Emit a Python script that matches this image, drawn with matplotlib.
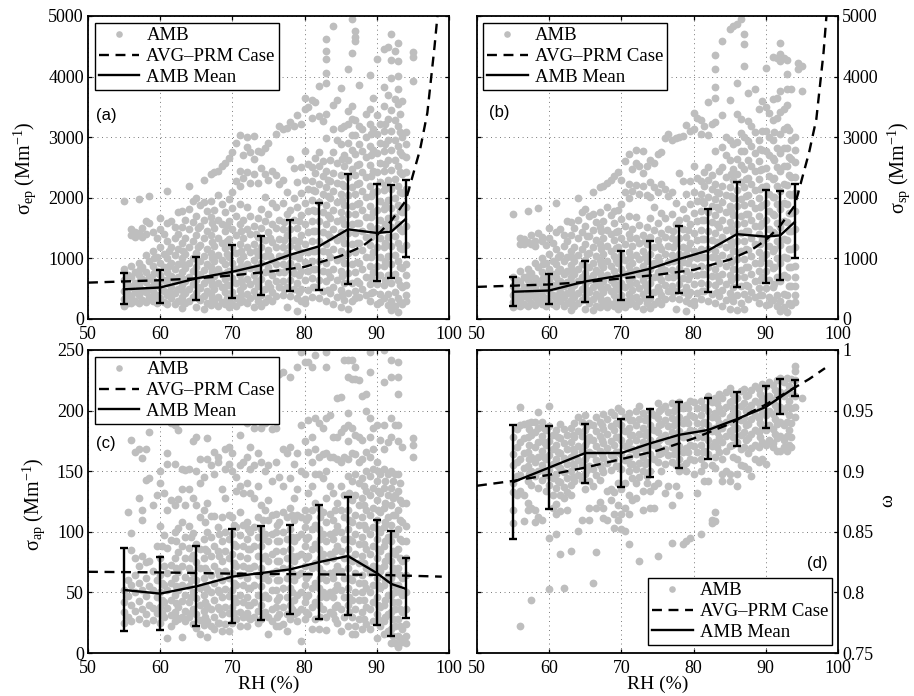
import matplotlib
matplotlib.use("Agg")
import matplotlib.pyplot as plt

plt.rcParams['font.family'] = ['Liberation Serif', 'DejaVu Sans']
plt.rcParams['mathtext.fontset'] = 'custom'
plt.rcParams['mathtext.rm'] = 'Liberation Serif'
plt.rcParams['mathtext.it'] = 'Liberation Serif:italic'
plt.rcParams['mathtext.bf'] = 'Liberation Serif:bold'

rh_bins = [55, 60, 65, 70, 74, 78, 82, 86, 90, 92, 94]

mean_a = [490, 520, 670, 780, 890, 1060, 1200, 1480, 1420, 1440, 1650]
low_a = [240, 260, 310, 340, 400, 470, 480, 580, 620, 670, 1030]
up_a = [760, 810, 1030, 1220, 1370, 1640, 1920, 2390, 2230, 2210, 2300]
mean_b = [450, 470, 620, 720, 830, 990, 1130, 1400, 1360, 1380, 1600]
low_b = [220, 240, 280, 310, 370, 430, 440, 530, 590, 650, 1000]
up_b = [690, 750, 950, 1130, 1280, 1540, 1810, 2260, 2130, 2120, 2220]
mean_c = [52, 49, 55, 63, 66, 69, 75, 80, 66, 57, 53]
low_c = [18, 19, 22, 25, 27, 32, 28, 31, 23, 14, 29]
up_c = [87, 79, 88, 102, 105, 106, 122, 129, 110, 101, 78]
mean_d = [.891, .903, .915, .915, .923, .93, .934, .943, .953, .961, .969]
low_d = [.844, .869, .89, .887, .895, .903, .91, .921, .936, .947, .962]
up_d = [.938, .937, .939, .943, .951, .957, .96, .965, .97, .976, .975]

prm_rh_a = [50, 55, 60, 65, 70, 75, 80, 85, 88, 90, 92, 94, 96, 97, 98, 98.4]
prm_a = [600, 620, 640, 670, 720, 780, 860, 1040, 1200, 1380, 1620, 1950, 2800, 3400, 4500, 5000]
prm_b = [530, 550, 570, 610, 670, 730, 810, 980, 1140, 1300, 1540, 1870, 2750, 3300, 4400, 5000]
prm_rh_c = [50, 60, 70, 80, 90, 99]
prm_c = [67, 66.5, 65.5, 65, 64.5, 63]
prm_rh_d = [50, 55, 60, 65, 70, 75, 80, 85, 88, 90, 92, 94, 96, 98.2]
prm_d = [.888, .892, .897, .903, .91, .917, .927, .939, .949, .955, .962, .969, .976, .985]

amb_a = [
 (55, [1940, 830, 640, 470, 330, 220]), (55.5, [720, 560, 410, 270]),
 (56, [1480, 1380, 880, 690, 520, 360, 260]), (56.5, [1440, 1350, 780, 600, 450, 300]),
 (57, [1980, 1420, 920, 730, 540, 390, 270]), (57.5, [1500, 1350, 850, 660, 480, 320]),
 (58, [1620, 1410, 1050, 780, 610, 440, 280]), (58.5, [2030, 1590, 960, 700, 530, 360]),
 (59, [1440, 1130, 880, 650, 470, 290]), (59.5, [1330, 1020, 790, 580, 400, 260]),
 (60, [1670, 1480, 1190, 920, 720, 530, 350]), (60.5, [1410, 1080, 850, 640, 470, 280]),
 (61, [2120, 1580, 1280, 1000, 780, 590, 390, 240]), (61.5, [1620, 1190, 920, 710, 520, 340]),
 (62, [1510, 1340, 1060, 830, 620, 430, 250]), (62.5, [1760, 1410, 1150, 900, 690, 500, 300]),
 (63, [1790, 1520, 1250, 1000, 770, 560, 360, 180]), (63.5, [1640, 1330, 1080, 840, 630, 430, 260]),
 (64, [2200, 1810, 1480, 1180, 920, 700, 490, 300]), (64.5, [1950, 1600, 1290, 1010, 790, 570, 370]),
 (65, [2000, 1700, 1380, 1090, 860, 640, 430, 190]), (65.5, [1880, 1530, 1220, 960, 730, 510, 310]),
 (66, [2300, 1930, 1640, 1330, 1040, 810, 590, 380, 170]), (66.5, [1780, 1450, 1160, 910, 680, 470, 260]),
 (67, [2400, 1950, 1690, 1390, 1090, 850, 620, 410, 230]), (67.5, [2420, 1800, 1500, 1200, 950, 710, 500, 300]),
 (68, [2450, 2040, 1640, 1340, 1060, 820, 590, 370, 220]), (68.5, [2520, 1900, 1560, 1250, 980, 740, 520, 280]),
 (69, [2580, 1760, 1460, 1170, 900, 660, 440, 240]), (69.5, [2650, 1980, 1620, 1320, 1030, 790, 560, 330, 190]),
 (70, [2750, 2100, 1830, 1490, 1180, 920, 680, 450, 250]), (70.5, [2900, 2270, 1700, 1380, 1090, 830, 590, 340, 220]),
 (71, [3030, 2450, 2200, 1890, 1560, 1240, 970, 720, 480, 280]), (71.5, [2700, 2330, 1640, 1330, 1040, 790, 540, 300]),
 (72, [3010, 2840, 2420, 1850, 1480, 1180, 900, 660, 420, 260]), (72.5, [2750, 2250, 1700, 1400, 1100, 840, 580, 340]),
 (73, [3020, 2640, 2400, 1530, 1240, 970, 720, 470, 200]), (73.5, [2780, 2250, 1670, 1360, 1060, 800, 540, 300]),
 (74, [2760, 2490, 1820, 1500, 1190, 930, 660, 400, 210]), (74.5, [2830, 2400, 2020, 1620, 1310, 1040, 770, 500, 280]),
 (75, [2900, 2290, 1740, 1440, 1140, 860, 600, 340]), (75.5, [2440, 1920, 1560, 1270, 980, 720, 450, 290]),
 (76, [3050, 2370, 1840, 1500, 1190, 900, 630, 380]), (76.5, [3180, 2230, 1640, 1320, 1040, 780, 520]),
 (77, [3140, 2300, 1920, 1480, 1180, 900, 620, 390]), (77.5, [3160, 2100, 1730, 1380, 1090, 820, 530, 190]),
 (78, [3250, 2640, 1800, 1480, 1200, 930, 650, 380]), (78.5, [3190, 2490, 2000, 1640, 1310, 1040, 760, 500]),
 (79, [3360, 2260, 1840, 1500, 1180, 880, 590, 340, 140]), (79.5, [3220, 2500, 2080, 1710, 1390, 1100, 800, 500, 300]),
 (80, [3650, 3470, 2780, 2290, 1920, 1560, 1240, 940, 640, 330, 260]), (80.5, [3500, 2560, 2140, 1780, 1440, 1110, 800, 480]),
 (81, [3620, 3310, 2500, 2270, 1970, 1620, 1280, 960, 670, 370]), (81.5, [3580, 2660, 2410, 2110, 1790, 1450, 1130, 820, 520]),
 (82, [3840, 3350, 2750, 2520, 2220, 1930, 1610, 1280, 950, 640, 340]), (82.5, [3260, 2600, 2360, 2060, 1760, 1440, 1120, 790, 470]),
 (83, [4620, 4430, 4290, 4060, 3900, 3380, 2980, 2450, 2180, 1880, 1560, 1240, 920, 620, 290]), (83.5, [2620, 2280, 1990, 1660, 1350, 1030, 700, 430]),
 (84, [4840, 3530, 3130, 2750, 2410, 2120, 1800, 1480, 1160, 830, 530, 240]), (84.5, [3610, 2950, 2580, 2240, 1930, 1620, 1300, 970, 640, 360]),
 (85, [3820, 3150, 2880, 2380, 2060, 1760, 1440, 1130, 800, 480, 190]), (85.5, [3180, 2710, 2520, 2190, 1880, 1570, 1250, 920, 590, 320]),
 (86, [4120, 3440, 3220, 2900, 2630, 2340, 2040, 1730, 1420, 1090, 760, 430, 170]), (86.5, [4950, 4390, 3520, 3300, 3040, 2790, 2480, 2180, 1870, 1560, 1240, 900, 600, 300]),
 (87, [4750, 4660, 4590, 3280, 3040, 2720, 2380, 2070, 1740, 1420, 1100, 780, 460, 340]), (87.5, [3860, 3190, 2880, 2560, 2240, 1910, 1590, 1260, 930, 600, 370]),
 (88, [3130, 2770, 2430, 2110, 1800, 1460, 1140, 820, 490]), (88.5, [3380, 3010, 2680, 2340, 2010, 1680, 1350, 1030, 700, 400]),
 (89, [4020, 3470, 3210, 2860, 2540, 2190, 1870, 1540, 1220, 880, 570, 300]), (89.5, [3650, 3130, 2790, 2440, 2100, 1770, 1440, 1100, 770, 450]),
 (90, [4290, 3360, 3050, 2740, 2420, 2110, 1800, 1500, 1190, 880, 570, 250]), (90.5, [3210, 2900, 2580, 2260, 1950, 1640, 1330, 1030, 720, 410, 280]),
 (91, [4460, 3830, 3520, 3100, 2780, 2440, 2130, 1820, 1500, 1190, 880, 560, 350]), (91.5, [4490, 3690, 3300, 2960, 2620, 2290, 1970, 1660, 1350, 1040, 730, 420, 230]),
 (92, [4700, 4270, 3980, 3450, 3100, 2790, 2460, 2150, 1830, 1520, 1210, 900, 590, 290, 150]), (92.5, [4420, 3630, 3290, 2960, 2630, 2310, 1990, 1680, 1370, 1060, 750, 440, 210]),
 (93, [4550, 4250, 4010, 3800, 3540, 3180, 2850, 2520, 2200, 1880, 1570, 1260, 950, 640, 340, 120]), (93.5, [3590, 3000, 2710, 2400, 2080, 1770, 1460, 1150, 840, 530, 240]),
 (94, [3080, 2880, 2680, 2430, 2150, 1840, 1530, 1220, 910, 730, 560, 400, 290]), (95, [4400, 4320, 3920]),
 (57.2, [820, 630, 440]), (59.2, [1000, 760, 560, 380]), (61.2, [1120, 880, 680, 440]), (63.2, [1130, 900, 660, 460, 280]), (65.2, [1500, 1180, 950, 740, 530, 350]),
 (67.2, [1590, 1270, 1000, 770, 560, 340]), (69.2, [1550, 1290, 1070, 780, 560, 350]), (71.2, [1460, 1130, 870, 630, 400]), (73.2, [1400, 1130, 860, 620, 380]),
 (75.2, [1330, 1040, 770, 520]), (77.2, [1600, 1300, 1040, 770, 500]), (79.2, [1620, 1290, 1010, 720, 440]), (81.2, [2130, 1800, 1450, 1120, 820, 520]),
 (83.2, [2300, 2030, 1720, 1400, 1100, 780, 480]), (85.2, [2640, 2230, 1960, 1650, 1340, 1030, 710, 400]), (87.2, [2540, 2230, 1900, 1590, 1260, 940, 620]),
 (89.2, [3060, 2700, 2360, 2030, 1690, 1360, 1020, 700, 430]), (91.2, [3210, 2880, 2550, 2210, 1880, 1560, 1260, 950, 640]), (93.2, [3380, 3090, 2760, 2420, 2100, 1790, 1480, 1170, 860, 560, 280]),
]

amb_b = [
 (55, [1730, 690, 540, 390, 280, 190]), (55.5, [640, 480, 340, 230]),
 (56, [1340, 1240, 790, 610, 440, 310, 210]), (56.5, [1320, 1230, 700, 530, 380, 250]),
 (57, [1790, 1270, 830, 650, 480, 340, 220]), (57.5, [1380, 1240, 760, 580, 420, 270]),
 (58, [1280, 1200, 920, 680, 520, 370, 230]), (58.5, [1830, 1420, 850, 620, 450, 290]),
 (59, [1350, 1280, 1000, 770, 570, 400, 240]), (59.5, [1220, 920, 700, 510, 340, 210]),
 (60, [1500, 1330, 1070, 820, 640, 470, 300]), (60.5, [1260, 960, 750, 560, 400, 240]),
 (61, [1920, 1430, 1160, 900, 700, 520, 340, 210]), (61.5, [1480, 1060, 820, 630, 450, 290]),
 (62, [1390, 1200, 950, 740, 550, 370, 220]), (62.5, [1610, 1280, 1030, 800, 610, 430, 260]),
 (63, [1600, 1380, 1120, 890, 690, 490, 310, 150]), (63.5, [1500, 1190, 960, 750, 560, 370, 220]),
 (64, [2000, 1640, 1330, 1060, 830, 620, 430, 260]), (64.5, [1760, 1440, 1160, 900, 700, 500, 320]),
 (65, [1820, 1530, 1240, 980, 760, 570, 380, 170]), (65.5, [1700, 1370, 1090, 860, 650, 450, 270]),
 (66, [2090, 1740, 1470, 1190, 930, 720, 520, 330, 150]), (66.5, [1600, 1300, 1040, 810, 600, 410, 220]),
 (67, [2170, 1760, 1520, 1240, 980, 760, 550, 360, 200]), (67.5, [2190, 1620, 1340, 1070, 850, 630, 440, 260]),
 (68, [2250, 1840, 1470, 1200, 950, 730, 520, 320, 190]), (68.5, [2300, 1710, 1400, 1120, 870, 650, 460, 240]),
 (69, [2360, 1780, 1580, 1310, 1040, 800, 590, 390, 210]), (69.5, [2420, 1800, 1460, 1180, 920, 700, 490, 290, 160]),
 (70, [2300, 1900, 1650, 1340, 1060, 820, 600, 400, 220]), (70.5, [2600, 2090, 1530, 1240, 980, 740, 520, 290, 190]),
 (71, [2730, 2230, 1990, 1700, 1400, 1110, 870, 640, 420, 240]), (71.5, [2470, 2120, 1480, 1200, 930, 700, 480, 260]),
 (72, [2790, 2580, 2210, 1680, 1340, 1060, 810, 590, 370, 220]), (72.5, [2520, 2060, 1550, 1260, 990, 750, 510, 300]),
 (73, [2780, 2410, 2190, 1390, 1120, 870, 640, 420, 170]), (73.5, [2520, 2050, 1510, 1230, 960, 720, 480, 260]),
 (74, [2620, 2260, 2020, 1660, 1360, 1070, 830, 590, 350, 180]), (74.5, [2570, 2180, 1840, 1470, 1180, 930, 690, 440, 240]),
 (75, [2730, 2090, 1580, 1300, 1030, 770, 530, 300]), (75.5, [2750, 2230, 1750, 1420, 1150, 880, 640, 400, 250]),
 (76, [2990, 2150, 1670, 1360, 1070, 810, 560, 330]), (76.5, [3050, 2030, 1490, 1200, 940, 700, 460]),
 (77, [2960, 2100, 1740, 1340, 1060, 810, 550, 340]), (77.5, [2980, 1910, 1570, 1250, 980, 730, 470, 170]),
 (78, [3000, 2410, 1630, 1340, 1080, 840, 580, 330]), (78.5, [3020, 2270, 1820, 1490, 1190, 940, 680, 440]),
 (79, [3200, 2060, 1670, 1360, 1070, 790, 530, 300, 130]), (79.5, [3110, 2280, 1900, 1560, 1260, 1000, 720, 450, 270]),
 (80, [3400, 3130, 2530, 2090, 1750, 1420, 1130, 850, 570, 290, 230]), (80.5, [3320, 2330, 1950, 1620, 1310, 1010, 720, 430]),
 (81, [3290, 3050, 2270, 2070, 1790, 1470, 1160, 870, 600, 330]), (81.5, [3180, 2420, 2190, 1920, 1630, 1320, 1020, 740, 470]),
 (82, [3580, 3040, 2500, 2290, 2020, 1760, 1460, 1160, 860, 580, 300]), (82.5, [3220, 2370, 2150, 1870, 1600, 1310, 1020, 710, 420]),
 (83, [4350, 4130, 3830, 3640, 3250, 2780, 2230, 1980, 1710, 1420, 1130, 830, 560, 260]), (83.5, [2450, 2080, 1810, 1510, 1230, 930, 630, 380]),
 (84, [4580, 3370, 2840, 2500, 2190, 1930, 1640, 1350, 1050, 750, 480, 210]), (84.5, [3000, 2700, 2350, 2040, 1760, 1470, 1180, 880, 580, 320]),
 (85, [4780, 3620, 2960, 2620, 2170, 1870, 1600, 1310, 1030, 720, 430, 170]), (85.5, [4830, 2880, 2470, 2290, 1990, 1710, 1430, 1130, 830, 530, 290]),
 (86, [4860, 3890, 3390, 2920, 2640, 2390, 2130, 1860, 1570, 1290, 990, 690, 390, 150]), (86.5, [4950, 3300, 3070, 2780, 2540, 2260, 1980, 1700, 1420, 1130, 810, 540, 270]),
 (87, [4710, 4530, 4170, 3010, 2770, 2480, 2170, 1880, 1580, 1290, 990, 700, 410, 160]), (87.5, [3730, 3260, 2930, 2630, 2330, 2040, 1740, 1450, 1140, 850, 540, 330]),
 (88, [3180, 2850, 2520, 2220, 1920, 1640, 1330, 1040, 740, 440]), (88.5, [3790, 3090, 2740, 2440, 2130, 1830, 1530, 1230, 930, 630, 360]),
 (89, [3460, 2960, 2600, 2310, 2000, 1700, 1400, 1110, 800, 510, 270]), (89.5, [3590, 3100, 2790, 2480, 2180, 1880, 1590, 1300, 1000, 690, 400]),
 (90, [4140, 3500, 3100, 2780, 2490, 2200, 1920, 1630, 1340, 1080, 790, 510, 230]), (90.5, [3400, 3010, 2700, 2360, 2070, 1780, 1490, 1210, 930, 650, 370, 250]),
 (91, [4320, 3630, 3290, 2960, 2650, 2310, 2020, 1730, 1430, 1130, 840, 530, 320]), (91.5, [4300, 3650, 3310, 2830, 2500, 2200, 1890, 1590, 1290, 1000, 700, 400, 210]),
 (92, [4560, 4380, 4250, 3770, 3420, 3060, 2740, 2440, 2120, 1820, 1520, 1220, 920, 620, 300, 130]), (92.5, [4310, 3470, 3130, 2830, 2520, 2220, 1920, 1620, 1320, 1020, 720, 420, 190]),
 (93, [4280, 4040, 3790, 3530, 3170, 2830, 2520, 2210, 1900, 1600, 1300, 1000, 700, 400, 110]), (93.5, [3790, 2960, 2640, 2340, 2040, 1750, 1450, 1150, 850, 550, 230]),
 (94, [3010, 2790, 2590, 2350, 2080, 1780, 1480, 1180, 880, 700, 540, 390, 280]), (94.5, [4220, 4130]), (95, [4170, 3770]),
 (57.2, [730, 560, 390]), (59.2, [900, 680, 500, 340]), (61.2, [1020, 790, 610, 390]), (63.2, [1030, 810, 600, 410, 250]), (65.2, [1370, 1070, 860, 670, 480, 320]),
 (67.2, [1450, 1150, 910, 700, 510, 310]), (69.2, [1430, 1170, 970, 710, 510, 320]), (71.2, [1330, 1030, 790, 570, 360]), (73.2, [1280, 1030, 780, 560, 350]),
 (75.2, [1210, 950, 700, 470]), (77.2, [1450, 1180, 950, 700, 450]), (79.2, [1470, 1170, 920, 660, 400]), (81.2, [1940, 1640, 1320, 1020, 740, 470]),
 (83.2, [2100, 1850, 1560, 1270, 1000, 710, 440]), (85.2, [2400, 2030, 1780, 1500, 1220, 940, 650, 360]), (87.2, [2310, 2030, 1730, 1450, 1150, 850, 560]),
 (89.2, [2800, 2460, 2150, 1850, 1540, 1240, 930, 640, 390]), (91.2, [3080, 2620, 2320, 2010, 1710, 1420, 1150, 860, 580]), (93.2, [3120, 2680, 2370, 2060, 1750, 1450, 1150, 850, 550, 260]),
]

amb_c = [
 (55, [52, 42, 34, 25]), (55.5, [116, 60, 47, 30]), (56, [176, 99, 85, 56, 40, 26]), (56.5, [166, 78, 64, 50, 35]),
 (57, [168, 128, 72, 58, 43, 28]), (57.5, [161, 110, 118, 80, 52, 36]), (58, [168, 143, 75, 62, 47, 32, 25]), (58.5, [182, 144, 76, 55, 40]),
 (59, [122, 68, 52, 37, 27]), (59.5, [130, 88, 60, 46, 33]), (60, [150, 140, 105, 78, 64, 50, 38, 25]), (60.5, [132, 97, 72, 56, 42, 30]),
 (61, [165, 156, 118, 87, 66, 52, 37, 12]), (61.5, [190, 126, 93, 73, 58, 44, 31, 22]), (62, [188, 156, 122, 100, 78, 62, 48, 34, 26]), (62.5, [184, 127, 103, 83, 67, 52, 38, 28]),
 (63, [152, 135, 108, 88, 72, 56, 43, 30, 13]), (63.5, [151, 122, 96, 78, 63, 48, 35, 26]), (64, [152, 135, 105, 87, 70, 55, 42, 30]), (64.5, [175, 128, 99, 81, 66, 50, 36, 24]),
 (65, [178, 150, 122, 90, 75, 60, 45, 32, 21]), (65.5, [160, 140, 112, 86, 70, 54, 40, 27, 16]), (66, [145, 118, 94, 78, 62, 48, 35, 23]), (66.5, [177, 160, 124, 100, 84, 68, 53, 39, 26, 13]),
 (67, [155, 113, 96, 80, 64, 50, 36, 22]), (67.5, [166, 148, 113, 88, 72, 58, 44, 30, 20]), (68, [162, 158, 104, 84, 68, 52, 38, 25]), (68.5, [135, 112, 92, 76, 60, 46, 32, 18]),
 (69, [168, 152, 128, 100, 84, 68, 53, 38, 24]), (69.5, [170, 156, 114, 94, 78, 62, 47, 33, 18]), (70, [165, 150, 112, 98, 82, 66, 52, 38, 25]), (70.5, [145, 134, 104, 88, 72, 56, 42, 28]),
 (71, [180, 155, 138, 116, 97, 80, 64, 48, 34, 22]), (71.5, [158, 132, 106, 88, 72, 56, 42, 30]), (72, [190, 162, 140, 108, 94, 78, 62, 46, 33, 22]), (72.5, [170, 152, 132, 100, 86, 70, 54, 40, 28]),
 (73, [186, 155, 128, 104, 88, 72, 56, 42, 30]), (73.5, [195, 165, 138, 112, 96, 80, 64, 48, 35, 25]), (74, [186, 158, 122, 102, 88, 70, 55, 40, 28]), (74.5, [190, 150, 118, 98, 80, 64, 48, 34]),
 (75, [208, 155, 126, 110, 92, 76, 60, 45, 30, 16]), (75.5, [185, 142, 114, 98, 82, 66, 52, 36, 26]), (76, [228, 186, 158, 115, 100, 84, 68, 52, 38, 22]), (76.5, [230, 145, 108, 92, 76, 60, 46, 32, 22]),
 (77, [232, 168, 138, 116, 100, 84, 70, 54, 38, 24]), (77.5, [165, 112, 94, 78, 62, 46, 32, 18]), (78, [228, 170, 144, 120, 102, 86, 70, 54, 40, 28]), (78.5, [156, 128, 110, 92, 76, 60, 44, 32]),
 (79, [236, 165, 135, 114, 96, 80, 64, 48, 34, 26]), (79.5, [248, 188, 150, 112, 98, 82, 66, 50, 36, 10]), (80, [240, 175, 148, 118, 104, 88, 72, 56, 42, 28]), (80.5, [240, 192, 166, 132, 112, 96, 80, 64, 48, 32]),
 (81, [236, 178, 158, 138, 118, 102, 86, 70, 54, 38, 20]), (81.5, [246, 194, 168, 148, 124, 106, 90, 74, 58, 42, 28]), (82, [190, 162, 148, 120, 102, 86, 70, 54, 40, 20]), (82.5, [186, 164, 144, 116, 98, 82, 66, 50, 36]),
 (83, [248, 236, 194, 165, 150, 128, 108, 92, 76, 60, 46, 30, 19]), (83.5, [196, 162, 138, 115, 98, 82, 66, 50, 34]), (84, [178, 162, 132, 110, 94, 78, 62, 46, 32]), (84.5, [210, 178, 160, 124, 105, 88, 72, 56, 40, 25]),
 (85, [211, 182, 158, 138, 118, 100, 84, 68, 52, 36, 18]), (85.5, [242, 186, 162, 130, 112, 94, 78, 62, 46, 30]), (86, [242, 228, 198, 188, 175, 160, 146, 118, 102, 86, 70, 54, 40, 22]), (86.5, [242, 226, 186, 165, 142, 126, 108, 92, 76, 60, 44, 30, 16]),
 (87, [236, 226, 180, 164, 148, 130, 114, 98, 82, 66, 50, 36, 22, 16]), (87.5, [225, 178, 158, 140, 122, 106, 90, 74, 58, 44, 28]), (88, [212, 176, 160, 144, 128, 112, 96, 80, 64, 50, 34, 20]), (88.5, [214, 200, 166, 150, 134, 118, 102, 86, 70, 54, 38, 24]),
 (89, [248, 232, 194, 178, 162, 146, 130, 114, 98, 82, 66, 50, 36, 20]), (89.5, [186, 168, 152, 136, 120, 104, 88, 72, 56, 42, 26]), (90, [188, 158, 142, 126, 110, 94, 78, 62, 46, 32, 12]), (90.5, [176, 148, 132, 116, 100, 84, 68, 54, 38, 22]),
 (91, [250, 224, 188, 168, 152, 136, 120, 104, 88, 72, 56, 40, 26, 16]), (91.5, [174, 148, 130, 112, 96, 80, 64, 48, 32, 18]), (92, [242, 228, 194, 178, 150, 136, 122, 106, 92, 76, 62, 48, 34, 20, 8]), (92.5, [188, 148, 130, 114, 98, 82, 66, 50, 36, 22, 8]),
 (93, [240, 228, 214, 188, 175, 148, 134, 118, 102, 86, 70, 56, 42, 28, 14, 5]), (93.5, [170, 124, 108, 92, 76, 62, 48, 34, 20, 9]), (94, [124, 105, 92, 78, 64, 50, 36, 24, 14, 8]), (95, [177, 172, 162]),
 (60.2, [88, 58, 44, 33]), (62.2, [92, 70, 55, 41, 30]), (64.2, [96, 78, 60, 46, 33]), (66.2, [108, 86, 70, 56, 42, 30]), (68.2, [98, 80, 64, 50, 36, 25]),
 (70.2, [106, 90, 74, 58, 45, 33]), (72.2, [102, 86, 70, 54, 40, 30]), (74.2, [110, 94, 78, 62, 46, 33]), (76.2, [106, 92, 76, 60, 44, 30]), (78.2, [114, 96, 80, 66, 50, 36]),
 (80.2, [110, 94, 78, 62, 46, 34]), (82.2, [112, 94, 78, 62, 46, 30]), (84.2, [118, 100, 84, 68, 52, 38, 28]), (86.2, [132, 110, 94, 78, 62, 46, 34]), (88.2, [138, 122, 106, 90, 74, 58, 44, 28]),
 (90.2, [150, 134, 118, 102, 86, 70, 56, 40, 28]), (91.2, [142, 124, 108, 92, 76, 60, 44, 30]), (92.2, [142, 128, 114, 98, 84, 70, 56, 42, 28, 14]), (93.2, [140, 126, 110, 94, 78, 64, 50, 36, 22, 12]),
]

amb_d = [
 (55, [.928, .914, .905, .89, .883, .868, .857]), (55.5, [.935, .92, .908, .896, .88]), (56, [.953, .938, .924, .91, .897, .884, .772]), (56.5, [.939, .927, .915, .903, .88, .859]),
 (57, [.94, .928, .916, .904, .892, .874, .868]), (57.5, [.941, .93, .912, .9, .889, .794, .87]), (58, [.941, .932, .92, .908, .896, .868, .858]), (58.5, [.949, .936, .924, .912, .9, .886, .862]),
 (59, [.941, .929, .917, .905, .893, .86]), (59.5, [.934, .922, .91, .897, .884]), (60, [.954, .937, .925, .913, .901, .889, .845, .803]), (60.5, [.93, .918, .906, .894, .88, .87]),
 (61, [.934, .922, .91, .898, .886, .873, .865, .848]), (61.5, [.939, .927, .915, .903, .891, .88, .867, .832]), (62, [.935, .923, .911, .899, .887, .878, .804]), (62.5, [.93, .918, .906, .894, .883, .868]),
 (63, [.936, .924, .912, .9, .889, .88, .834]), (63.5, [.94, .928, .916, .904, .892]), (64, [.945, .933, .921, .909, .897, .851]), (64.5, [.941, .929, .917, .905, .893, .86]),
 (65, [.946, .934, .922, .91, .898, .885]), (65.5, [.94, .928, .916, .904, .892, .87, .86]), (66, [.938, .926, .914, .902, .888, .808]), (66.5, [.945, .933, .921, .909, .897, .87, .833]),
 (67, [.941, .929, .917, .905, .893, .875]), (67.5, [.947, .935, .923, .911, .899, .87, .861]), (68, [.943, .931, .919, .907, .884, .86]), (68.5, [.949, .937, .925, .913, .901, .885, .876]),
 (69, [.946, .934, .922, .91, .883, .865, .853]), (69.5, [.952, .94, .928, .916, .904, .89, .872, .86]), (70, [.95, .938, .926, .914, .902, .885, .865, .852]), (70.5, [.945, .933, .921, .909, .89, .87, .851]),
 (71, [.948, .936, .924, .912, .9, .88, .865, .84]), (71.5, [.942, .93, .918, .906, .894, .876]), (72, [.95, .938, .926, .914, .902, .89, .878]), (72.5, [.954, .943, .931, .919, .907, .895, .826]),
 (73, [.948, .936, .924, .912, .9, .884, .868]), (73.5, [.944, .932, .92, .908, .896, .89]), (74, [.95, .938, .926, .914, .9, .884, .87]), (74.5, [.946, .934, .922, .91, .888, .87]),
 (75, [.956, .944, .932, .92, .908, .89, .83]), (75.5, [.951, .939, .927, .915, .9]), (76, [.954, .942, .93, .918, .906, .882]), (76.5, [.949, .937, .925, .913, .888]),
 (77, [.956, .944, .932, .92, .908, .872, .841]), (77.5, [.953, .941, .929, .917, .905, .888]), (78, [.957, .945, .933, .921, .91, .9, .88]), (78.5, [.952, .94, .928, .916, .904, .84]),
 (79, [.955, .943, .931, .919, .907, .9, .842]), (79.5, [.958, .946, .934, .922, .91, .845]), (80, [.957, .945, .933, .921, .909, .898]), (80.5, [.952, .94, .928, .916, .882]),
 (81, [.958, .946, .934, .922, .91, .9, .848]), (81.5, [.953, .941, .929, .917, .905, .892]), (82, [.962, .95, .938, .926, .914, .892]), (82.5, [.957, .945, .933, .921, .905, .86, .857]),
 (83, [.96, .948, .936, .924, .912, .903, .866, .859]), (83.5, [.964, .952, .94, .928, .916]), (84, [.96, .948, .936, .924, .91, .898, .892]), (84.5, [.965, .953, .941, .929, .917, .9]),
 (85, [.969, .957, .945, .933, .921, .898, .892]), (85.5, [.964, .952, .94, .928, .912]), (86, [.96, .948, .936, .924, .91, .898, .888]), (86.5, [.966, .954, .942, .93, .918, .905]),
 (87, [.968, .956, .944, .932, .92, .904]), (87.5, [.963, .951, .939, .927, .915, .902]), (88, [.967, .955, .943, .931, .919, .896]), (88.5, [.97, .958, .946, .934, .922, .91]),
 (89, [.968, .956, .944, .932, .92, .908]), (89.5, [.972, .96, .948, .936, .924, .91]), (90, [.97, .958, .946, .934, .922, .906]), (90.5, [.974, .962, .95, .938, .926]),
 (91, [.971, .959, .947, .935, .923, .92]), (91.5, [.975, .963, .951, .939, .927, .917]), (92, [.977, .965, .953, .941, .929, .917]), (92.5, [.974, .962, .95, .938, .926, .92]),
 (93, [.977, .965, .953, .941, .929, .917]), (93.5, [.976, .964, .952, .94, .928, .92]), (94, [.987, .983, .975, .962, .953, .945]), (95, [.96]),
 (57.25, [.935, .922, .91, .898]), (59.25, [.936, .924, .912, .9]), (61.25, [.928, .916, .904, .892]), (63.25, [.93, .918, .906, .895]), (65.25, [.937, .925, .913, .901]),
 (67.25, [.938, .926, .914, .902]), (69.25, [.94, .928, .916, .904]), (71.25, [.942, .93, .918, .906]), (73.25, [.942, .93, .918, .906]), (75.25, [.95, .938, .926, .914]),
 (77.25, [.95, .938, .926, .914]), (79.25, [.952, .94, .928, .916]), (81.25, [.952, .94, .928, .916]), (83.25, [.956, .944, .932, .92]), (85.25, [.958, .946, .934, .922]),
 (87.25, [.962, .95, .938, .926]), (89.25, [.964, .952, .94, .928]), (91.25, [.967, .955, .943, .931]), (93.25, [.97, .958, .946, .934, .922]),
]


def panel(box, amb, prm_x, prm_y, mean, low, up, ylim, yticks, yticklabels, letter, letter_xy,
          legend_xy, right=False, xlabel=False):
    ax = fig.add_axes([box[0] / W, 1 - box[1] / H, 361 / W, 303 / H])
    xs, ys = [], []
    for rh, vals in amb:
        xs.extend([rh] * len(vals))
        ys.extend(vals)
    l1, = ax.plot(xs, ys, 'o', color='#bebebe', ms=5.6, mew=0, zorder=2)
    l2, = ax.plot(prm_x, prm_y, color='k', lw=1.7, dashes=(4.2, 2.8), zorder=3)
    ax.errorbar(rh_bins, mean, yerr=[[m - l for m, l in zip(mean, low)], [u - m for m, u in zip(mean, up)]],
                fmt='none', ecolor='k', elinewidth=1.7, capsize=2.6, capthick=1.7, zorder=4)
    l3, = ax.plot(rh_bins, mean, color='k', lw=1.7, zorder=4)
    ax.set_xlim(50, 100)
    ax.set_ylim(*ylim)
    ax.set_xticks(range(50, 101, 10))
    ax.set_yticks(yticks)
    ax.set_yticklabels(yticklabels)
    ax.grid(True, ls=(0, (1, 4)), color='#666666', lw=0.65, zorder=1)
    ax.set_axisbelow(True)
    ax.tick_params(direction='in', length=3, width=0.9, labelsize=13, top=True, right=True)
    ax.tick_params(axis='x', pad=5)
    ax.tick_params(axis='y', pad=3)
    if right:
        ax.yaxis.tick_right()
        ax.tick_params(axis='y', direction='in', length=3, left=True, right=True, pad=3)
    for s in ax.spines.values():
        s.set_linewidth(1.3)
    if xlabel:
        ax.set_xlabel('RH (%)', fontsize=14, labelpad=-1)
    ax.text(letter_xy[0], letter_xy[1], letter, transform=ax.transAxes, family='Liberation Sans',
            fontsize=12, va='center', ha='right' if letter == '(d)' else 'left', zorder=6)
    leg = ax.legend([l1, l2, l3], ['AMB', 'AVG–PRM Case', 'AMB Mean'], loc='upper left', bbox_to_anchor=legend_xy,
                    borderaxespad=0, fontsize=13.5, fancybox=False, framealpha=1, edgecolor='k',
                    handlelength=2.15, handletextpad=0.38, labelspacing=0.2, borderpad=0.22,
                    numpoints=1, markerscale=0.85)
    leg.get_frame().set_linewidth(1.0)
    leg.set_zorder(5)
    return ax


W, H = 914, 696
fig = plt.figure(figsize=(W / 100, H / 100), dpi=100)

t5k = [0, 1000, 2000, 3000, 4000, 5000]
t5l = ['0', '1000', '2000', '3000', '4000', '5000']
panel((88, 319), amb_a, prm_rh_a, prm_a, mean_a, low_a, up_a, (0, 5000), t5k, t5l, '(a)', (.022, .673), (.019, .977))
panel((477, 319), amb_b, prm_rh_a, prm_b, mean_b, low_b, up_b, (0, 5000), t5k, t5l, '(b)', (.033, .68), (.017, .977), right=True)
panel((88, 653), amb_c, prm_rh_c, prm_c, mean_c, low_c, up_c, (0, 250), [0, 50, 100, 150, 200, 250],
      ['0', '50', '100', '150', '200', '250'], '(c)', (.022, .69), (.019, .977), xlabel=True)
panel((477, 653), amb_d, prm_rh_d, prm_d, mean_d, low_d, up_d, (.75, 1), [.75, .8, .85, .9, .95, 1],
      ['0.75', '0.8', '0.85', '0.9', '0.95', '1'], '(d)', (.972, .297), (.474, .2475), right=True, xlabel=True)

fig.text(25 / W, 1 - 168 / H, 'σ$_{\\mathrm{ep}}$ (Mm$^{-1}$)', rotation=90, fontsize=14.5, ha='center', va='center')
fig.text(899 / W, 1 - 168 / H, 'σ$_{\\mathrm{sp}}$ (Mm$^{-1}$)', rotation=90, fontsize=14.5, ha='center', va='center')
fig.text(34 / W, 1 - 504 / H, 'σ$_{\\mathrm{ap}}$ (Mm$^{-1}$)', rotation=90, fontsize=14.5, ha='center', va='center')
fig.text(888 / W, 1 - 501 / H, 'ω', rotation=90, fontsize=14, ha='center', va='center')

fig.savefig('out.png', dpi=100)
